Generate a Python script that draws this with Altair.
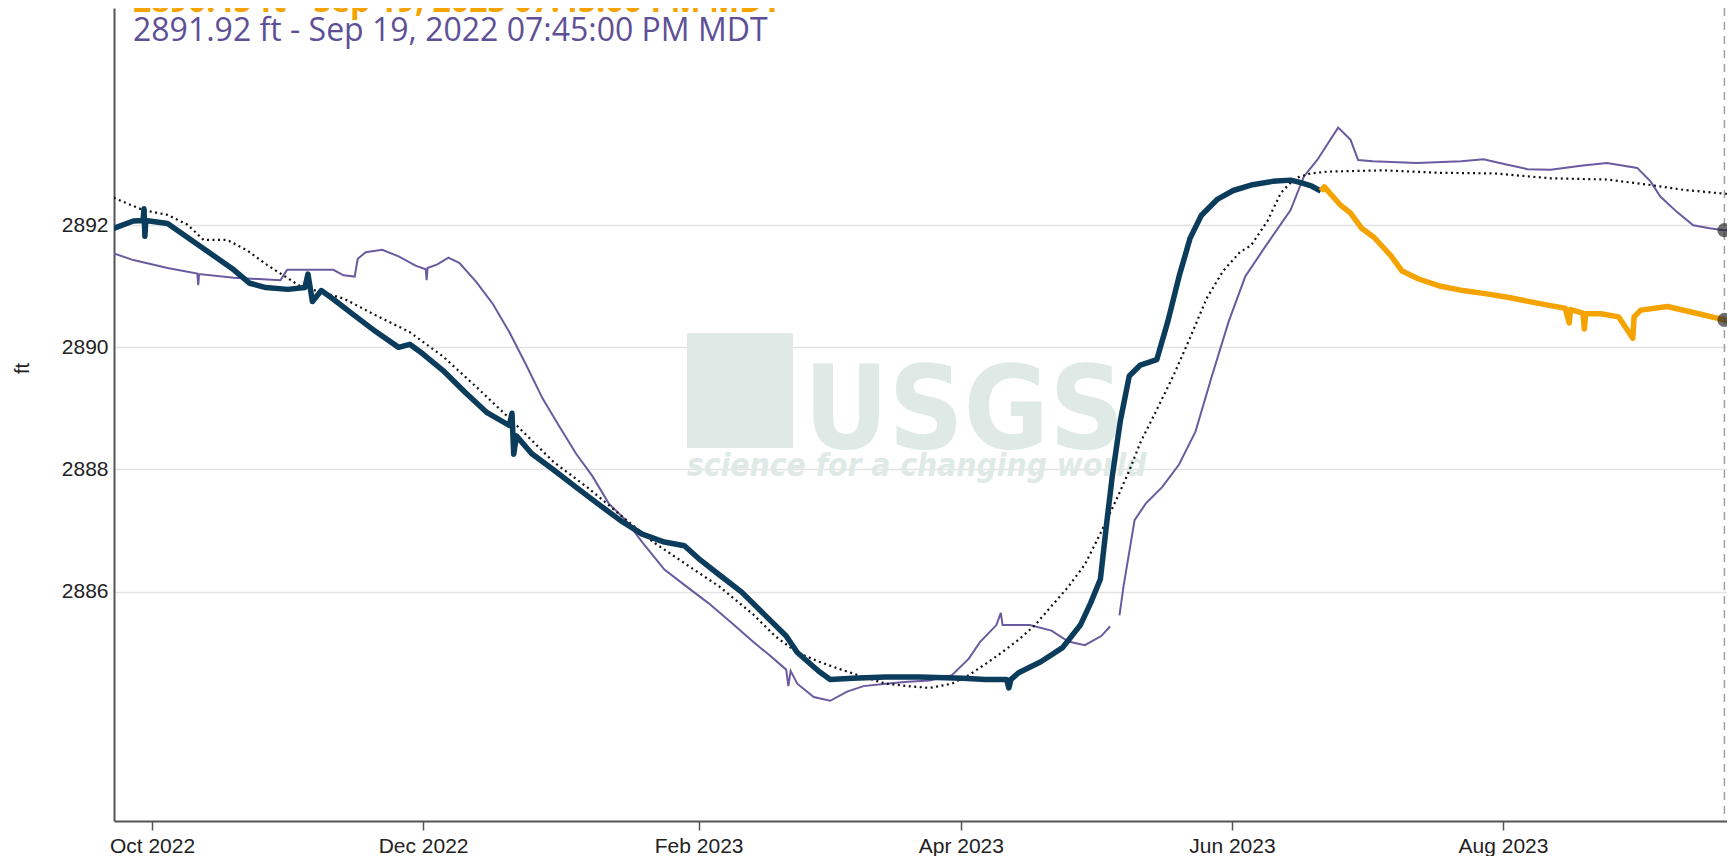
import altair as alt
import pandas as pd

BASE = "2022-10-01"  # day 0 of the day offsets below

# --- current year, approved (navy) ---
navy_day = [-8.6, -4.2, -2.0, -1.8, -1.6, -1.4, 3.5, 11.0, 18.4, 22.0,
            25.6, 30.6, 34.4, 35.1, 36.1, 38.1, 40.6, 45.6, 50.5, 55.5,
            58.0, 61.0, 65.5, 70.5, 75.4, 80.4, 81.0, 81.4, 82.0, 85.4,
            90.4, 95.4, 100.3, 105.3, 110.3, 115.3, 119.8, 123.0, 127.7, 132.7,
            137.7, 142.7, 145.2, 150.1, 152.6, 157.6, 165.1, 172.6, 182.5, 187.5,
            192.3, 192.8, 193.3, 195.0, 200.0, 204.9, 208.9, 211.2, 213.4, 214.9,
            216.1, 217.9, 219.9, 222.4, 226.1, 228.6, 231.1, 233.6, 236.1, 239.8,
            243.3, 247.3, 252.2, 256.2, 258.5, 261.0, 263.0]
navy_ft = [2891.95, 2892.07, 2892.08, 2892.27, 2891.82, 2892.08, 2892.03, 2891.65, 2891.27, 2891.05,
           2890.98, 2890.95, 2890.98, 2891.2, 2890.75, 2890.93, 2890.8, 2890.52, 2890.25, 2890.0,
           2890.05, 2889.89, 2889.62, 2889.26, 2888.93, 2888.72, 2888.92, 2888.25, 2888.55, 2888.26,
           2887.99, 2887.71, 2887.44, 2887.17, 2886.94, 2886.81, 2886.75, 2886.54, 2886.27, 2885.99,
           2885.63, 2885.27, 2885.0, 2884.69, 2884.56, 2884.58, 2884.6, 2884.6, 2884.58, 2884.56,
           2884.56, 2884.42, 2884.56, 2884.67, 2884.85, 2885.08, 2885.45, 2885.81, 2886.2, 2887.17,
           2887.9, 2888.8, 2889.53, 2889.71, 2889.8, 2890.43, 2891.16, 2891.79, 2892.16, 2892.43,
           2892.57, 2892.66, 2892.72, 2892.74, 2892.7, 2892.64, 2892.56]

# --- current year, provisional (orange) ---
orange_day = [263.0, 263.8, 267.3, 269.7, 272.2, 275.0, 278.8, 281.3, 285.0, 290.0,
              295.0, 300.0, 305.0, 310.0, 315.0, 318.0, 318.9, 319.2, 322.0, 322.3,
              322.6, 326.0, 330.0, 333.2, 333.5, 335.0, 341.0, 348.0, 353.8, 356.3]
orange_ft = [2892.56, 2892.63, 2892.34, 2892.2, 2891.95, 2891.8, 2891.5, 2891.25, 2891.12, 2891.0,
             2890.93, 2890.88, 2890.82, 2890.75, 2890.68, 2890.64, 2890.4, 2890.62, 2890.56, 2890.3,
             2890.55, 2890.55, 2890.5, 2890.15, 2890.5, 2890.61, 2890.67, 2890.55, 2890.45, 2890.43]

# --- previous year (purple), two segments with a gap ---
purple1_day = [-8.6, -4.2, 3.5, 10.2, 10.4, 10.6, 18.4, 28.9, 30.4, 40.8,
               43.1, 45.6, 46.3, 48.1, 51.8, 55.5, 59.3, 61.6, 61.8, 62.0,
               64.2, 66.7, 69.2, 73.0, 76.7, 80.4, 84.2, 87.9, 91.6, 95.4,
               99.1, 102.8, 106.6, 110.3, 115.3, 120.3, 125.2, 130.2, 135.2, 138.9,
               142.7, 143.2, 143.7, 145.2, 148.9, 152.6, 156.4, 160.1, 165.1, 170.1,
               175.0, 180.0, 183.8, 186.3, 190.0, 191.0, 191.4, 193.7, 197.5, 202.4,
               206.2, 209.9, 213.6, 215.6]
purple1_ft = [2891.54, 2891.43, 2891.3, 2891.21, 2891.02, 2891.2, 2891.14, 2891.1, 2891.27, 2891.27,
              2891.18, 2891.16, 2891.45, 2891.56, 2891.6, 2891.49, 2891.34, 2891.28, 2891.1, 2891.3,
              2891.36, 2891.47, 2891.38, 2891.07, 2890.71, 2890.25, 2889.71, 2889.16, 2888.71, 2888.26,
              2887.89, 2887.44, 2887.17, 2886.81, 2886.36, 2886.08, 2885.81, 2885.5, 2885.18, 2884.96,
              2884.72, 2884.45, 2884.7, 2884.49, 2884.27, 2884.21, 2884.36, 2884.45, 2884.49, 2884.52,
              2884.54, 2884.63, 2884.9, 2885.17, 2885.45, 2885.65, 2885.45, 2885.45, 2885.45, 2885.36,
              2885.18, 2885.12, 2885.27, 2885.43]
purple2_day = [217.7, 218.6, 221.1, 223.6, 227.3, 231.1, 234.8, 238.5, 242.3, 246.0,
               250.5, 256.2, 259.2, 262.2, 266.9, 269.7, 271.4, 274.7, 284.6, 294.6,
               299.6, 304.5, 309.5, 314.7, 322.0, 327.4, 334.2, 337.2, 339.4, 343.1,
               346.8, 350.5, 353.8, 356.3]
purple2_ft = [2885.61, 2886.08, 2887.17, 2887.44, 2887.71, 2888.08, 2888.62, 2889.53, 2890.43, 2891.16,
              2891.65, 2892.25, 2892.8, 2893.07, 2893.6, 2893.4, 2893.07, 2893.05, 2893.02, 2893.05,
              2893.08, 2893.0, 2892.92, 2892.91, 2892.98, 2893.02, 2892.94, 2892.72, 2892.47, 2892.22,
              2892.0, 2891.95, 2891.92, 2891.92]

# --- median (dotted) ---
median_day = [-8.6, -2.0, 3.5, 8.0, 11.6, 16.9, 21.4, 25.9, 28.9, 33.4,
              43.1, 50.5, 58.0, 65.5, 73.0, 80.4, 85.4, 90.4, 97.9, 105.3,
              112.8, 120.3, 127.7, 135.2, 140.2, 145.2, 150.1, 155.1, 160.1, 165.1,
              170.1, 175.0, 180.0, 183.8, 187.5, 191.2, 195.0, 198.7, 202.4, 206.2,
              209.9, 213.6, 217.4, 219.9, 222.4, 226.1, 229.8, 233.6, 237.3, 241.0,
              244.8, 247.3, 251.0, 254.0, 257.2, 260.7, 264.7, 277.1, 289.6, 302.0,
              314.7, 327.4, 337.2, 344.7, 356.3]
median_ft = [2892.45, 2892.25, 2892.17, 2892.01, 2891.76, 2891.76, 2891.59, 2891.35, 2891.21, 2891.0,
             2890.8, 2890.52, 2890.25, 2889.85, 2889.35, 2888.84, 2888.48, 2888.12, 2887.71, 2887.26,
             2886.81, 2886.44, 2886.08, 2885.63, 2885.27, 2885.0, 2884.85, 2884.72, 2884.6, 2884.49,
             2884.45, 2884.42, 2884.49, 2884.63, 2884.81, 2885.0, 2885.21, 2885.45, 2885.76, 2886.08,
             2886.44, 2886.98, 2887.57, 2887.98, 2888.44, 2888.98, 2889.53, 2890.16, 2890.8, 2891.25,
             2891.56, 2891.67, 2892.07, 2892.53, 2892.77, 2892.85, 2892.88, 2892.9, 2892.86, 2892.85,
             2892.77, 2892.75, 2892.66, 2892.58, 2892.5]

cursor_time = "2023-09-19T19:45:00"
cursor_ft = [2891.92, 2890.45]
header_purple = "2891.92 ft - Sep 19, 2022 07:45:00 PM MDT"
header_orange = "2890.45 ft - Sep 19, 2023 07:45:00 PM MDT"

x_domain = ["2022-09-22T10:48:00", "2023-09-20T09:40:00"]
y_domain = [2882.24, 2895.56]
y_ticks = [2886, 2888, 2890, 2892]
x_ticks = [alt.DateTime(year=2022, month=10, date=1), alt.DateTime(year=2022, month=12, date=1),
           alt.DateTime(year=2023, month=2, date=1), alt.DateTime(year=2023, month=4, date=1),
           alt.DateTime(year=2023, month=6, date=1), alt.DateTime(year=2023, month=8, date=1)]


def frame(days, vals, seg=0):
    t = pd.Timestamp(BASE) + pd.to_timedelta(days, unit="D")
    return pd.DataFrame({"time": t.strftime("%Y-%m-%dT%H:%M:%S"), "ft": vals, "seg": seg})


navy_df = frame(navy_day, navy_ft)
orange_df = frame(orange_day, orange_ft)
purple_df = pd.concat([frame(purple1_day, purple1_ft, 1), frame(purple2_day, purple2_ft, 2)])
median_df = frame(median_day, median_ft)
cursor_df = pd.DataFrame({"time": [cursor_time] * 2, "ft": cursor_ft})

xs = alt.Scale(domain=x_domain)
ys = alt.Scale(domain=y_domain, zero=False, nice=False)
X = alt.X("time:T", scale=xs, title=None,
          axis=alt.Axis(values=x_ticks, format="%b %Y", grid=False, tickSize=9,
                        tickColor="#555", tickWidth=1.5, labelPadding=5, labelFlush=False))
Y = alt.Y("ft:Q", scale=ys,
          axis=alt.Axis(values=y_ticks, format="d", title="ft", ticks=False, labelPadding=6,
                        titleX=-92, titleY=360, titleAngle=270, titleAlign="center",
                        titleBaseline="middle"))

dummy = pd.DataFrame({"a": [0]})
wm_color = "#dfeae7"
wm_font = "Liberation Sans Narrow, DejaVu Sans Condensed, sans-serif"
wm_box = alt.Chart(dummy).mark_rect(color=wm_color).encode(
    x=alt.value(573), x2=alt.value(679), y=alt.value(325), y2=alt.value(440))
wm_usgs = alt.Chart(pd.DataFrame({"t": ["USGS"]})).mark_text(
    font=wm_font, fontSize=116, fontWeight="bold",
    color=wm_color, align="center", baseline="alphabetic").encode(
    text="t:N", x=alt.value(850), y=alt.value(440))
wm_tag = alt.Chart(pd.DataFrame({"t": ["science for a changing world"]})).mark_text(
    font=wm_font, fontSize=31.5, fontStyle="italic",
    fontWeight="bold", color=wm_color, align="left", baseline="alphabetic").encode(
    text="t:N", x=alt.value(573), y=alt.value(468))

purple = alt.Chart(purple_df).mark_line(color="#6a5aa0", strokeWidth=2, clip=True).encode(
    x=X, y=Y, detail="seg:N")
median = alt.Chart(median_df).mark_line(color="#111", strokeWidth=2.2, strokeDash=[2, 3.5],
                                        clip=True).encode(x=X, y=Y)
navy = alt.Chart(navy_df).mark_line(color="#0b3c5b", strokeWidth=5.5, clip=True,
                                    strokeJoin="round").encode(x=X, y=Y)
orange = alt.Chart(orange_df).mark_line(color="#f5a300", strokeWidth=5.5, clip=True,
                                        strokeJoin="round").encode(x=X, y=Y)
cursor_rule = alt.Chart(cursor_df.head(1)).mark_rule(color="#a0a0a0", strokeWidth=1.5,
                                                     strokeDash=[8, 6]).encode(x=X)
dots = alt.Chart(cursor_df).mark_point(filled=True, size=200, color="#222", opacity=0.65).encode(x=X, y=Y)

head_p = alt.Chart(pd.DataFrame({"t": [header_purple]})).mark_text(
    font="Open Sans", fontSize=32, color="#5e5096", align="left", baseline="alphabetic").encode(
    text="t:N", x=alt.value(19), y=alt.value(33))
head_o = alt.Chart(pd.DataFrame({"t": [header_orange]})).mark_text(
    font="Open Sans", fontSize=32, fontWeight="bold", color="#f5a300", align="left",
    baseline="alphabetic").encode(text="t:N", x=alt.value(19), y=alt.value(4))

chart = alt.layer(
    wm_box, wm_usgs, wm_tag, purple, median, navy, orange, cursor_rule, dots, head_p, head_o
).properties(
    width=1613, height=813,
    autosize=alt.AutoSizeParams(type="none"),
    padding={"left": 106, "top": 0, "right": 0, "bottom": 45},
).configure_view(stroke=None).configure_axis(
    labelFont="Liberation Sans", labelFontSize=21, labelColor="#222",
    domainColor="#555", domainWidth=2, gridColor="#e3e3e3", gridWidth=1.5,
    titleFont="Liberation Sans", titleFontSize=20, titleColor="#222", titleFontWeight="normal",
)

chart.save("out.html", embed_options={"renderer": "svg", "actions": False})
